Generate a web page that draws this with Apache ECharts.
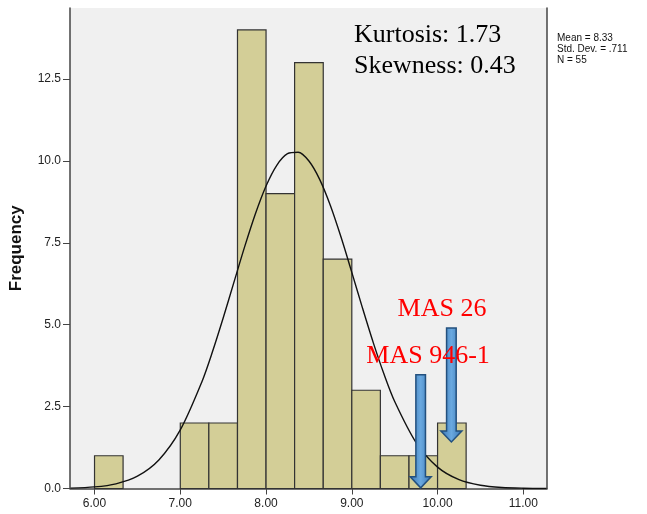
<!DOCTYPE html>
<html>
<head>
<meta charset="utf-8">
<script src="https://cdn.jsdelivr.net/npm/echarts@6/dist/echarts.min.js"></script>
<style>
html,body{margin:0;padding:0;background:#fff;}
#chart{width:647px;height:514px;}
</style>
</head>
<body>
<div id="chart"></div>
<script>
// Histogram bins (lower edge, upper edge) and frequencies
var binLow  = [6.000, 7.000, 7.333, 7.667, 8.000, 8.333, 8.667, 9.000, 9.333, 9.667, 10.000];
var binHigh = [6.333, 7.333, 7.667, 8.000, 8.333, 8.667, 9.000, 9.333, 9.667, 10.000, 10.333];
var counts  = [1, 2, 2, 14, 9, 13, 7, 3, 1, 1, 2];

// Normal curve values (Mean 8.33, SD .711, N 55)
var curveX = [5.72, 6.00, 6.25, 6.50, 6.75, 7.00, 7.25, 7.375, 7.50, 7.625, 7.75, 7.875, 8.00, 8.125, 8.25, 8.375, 8.50, 8.625, 8.75, 8.875, 9.00, 9.125, 9.25, 9.375, 9.50, 9.75, 10.00, 10.25, 10.50, 10.75, 11.00, 11.27];
var curveY = [0.012, 0.048, 0.143, 0.375, 0.871, 1.788, 3.246, 4.173, 5.204, 6.293, 7.376, 8.382, 9.237, 9.868, 10.222, 10.266, 9.997, 9.438, 8.640, 7.669, 6.599, 5.506, 4.454, 3.493, 2.656, 1.400, 0.652, 0.268, 0.098, 0.031, 0.009, 0.002];

// X and Y tick labels
var xTicks = [6, 7, 8, 9, 10, 11];
var yTicks = [0, 2.5, 5, 7.5, 10, 12.5];

// Arrow annotations
var arrowNames = ['MAS 946-1', 'MAS 26'];
var arrowX     = [9.803, 10.161];
var arrowTop   = [3.47, 4.90];
var arrowTip   = [0.02, 1.42];
var labelX     = [9.889, 10.052];
var labelY     = [4.05, 5.48];

// Statistic texts
var statsLines = ['Mean = 8.33', 'Std. Dev. = .711', 'N = 55'];
var shapeLines = ['Kurtosis: 1.73', 'Skewness: 0.43'];

var chart = echarts.init(document.getElementById('chart'), null, {renderer: 'canvas'});

var barData = counts.map(function (c, i) { return [binLow[i], binHigh[i], c]; });
var curveData = curveX.map(function (x, i) { return [x, curveY[i]]; });
var arrowData = arrowX.map(function (x, i) { return [x, arrowTop[i], arrowTip[i]]; });
var labelData = labelX.map(function (x, i) { return [x, labelY[i], arrowNames[i]]; });

var axisColor = '#444';
var sans = 'Liberation Sans, Arial, sans-serif';
var serif = 'Liberation Serif, Times New Roman, serif';

var option = {
  animation: false,
  backgroundColor: '#ffffff',
  grid: {
    left: 70, top: 8, width: 477, height: 480.5,
    outerBoundsMode: 'none', containLabel: false,
    show: true, backgroundColor: '#f0f0f0', borderWidth: 0
  },
  xAxis: {
    type: 'value', min: 5.714, max: 11.276,
    axisLine: {show: true, onZero: false, lineStyle: {color: axisColor, width: 1.5}},
    axisTick: {show: true, customValues: xTicks, length: 6, lineStyle: {color: axisColor, width: 1}},
    axisLabel: {customValues: xTicks, color: '#222', fontFamily: sans, fontSize: 12, margin: 9,
      formatter: function (v) { return v.toFixed(2); }},
    splitLine: {show: false}
  },
  yAxis: [{
    type: 'value', min: 0, max: 14.67,
    name: 'Frequency', nameLocation: 'middle', nameRotate: 90, nameGap: 45,
    nameTextStyle: {fontFamily: sans, fontWeight: 'bold', fontSize: 17, color: '#111'},
    axisLine: {show: true, lineStyle: {color: axisColor, width: 1.5}},
    axisTick: {show: true, customValues: yTicks, length: 7, lineStyle: {color: axisColor, width: 1}},
    axisLabel: {customValues: yTicks, color: '#222', fontFamily: sans, fontSize: 12, margin: 9,
      formatter: function (v) { return v.toFixed(1); }},
    splitLine: {show: false}
  }, {
    type: 'value', min: 0, max: 14.67, position: 'right',
    axisLine: {show: true, lineStyle: {color: axisColor, width: 1.5}},
    axisTick: {show: false}, axisLabel: {show: false}, splitLine: {show: false}
  }],
  series: [{
    type: 'custom',
    z: 2,
    data: barData,
    encode: {x: [0, 1], y: 2},
    renderItem: function (params, api) {
      var p0 = api.coord([api.value(0), api.value(2)]);
      var p1 = api.coord([api.value(1), 0]);
      return {
        type: 'rect',
        shape: {x: p0[0], y: p0[1], width: p1[0] - p0[0], height: p1[1] - p0[1]},
        style: {fill: '#d3ce97', stroke: '#333', lineWidth: 1.2}
      };
    }
  }, {
    type: 'line',
    z: 3,
    data: curveData,
    smooth: 0.3,
    showSymbol: false,
    symbol: 'none',
    lineStyle: {color: '#111', width: 1.4}
  }, {
    type: 'custom',
    z: 4,
    data: arrowData,
    encode: {x: 0, y: [1, 2]},
    renderItem: function (params, api) {
      var top = api.coord([api.value(0), api.value(1)]);
      var tip = api.coord([api.value(0), api.value(2)]);
      var x = top[0], sw = 4.8, hw = 10.5, hl = 11;
      var pts = [
        [x - sw, top[1]], [x + sw, top[1]], [x + sw, tip[1] - hl], [x + hw, tip[1] - hl],
        [x, tip[1]], [x - hw, tip[1] - hl], [x - sw, tip[1] - hl]
      ];
      return {
        type: 'polygon',
        shape: {points: pts},
        style: {
          fill: new echarts.graphic.LinearGradient(0, 0, 1, 0, [
            {offset: 0, color: '#3572b0'}, {offset: 0.5, color: '#6aa9e0'}, {offset: 1, color: '#3572b0'}
          ]),
          stroke: '#23507e', lineWidth: 1.5
        }
      };
    }
  }, {
    type: 'custom',
    z: 5,
    data: labelData,
    encode: {x: 0, y: 1},
    renderItem: function (params, api) {
      var lab = api.coord([api.value(0), api.value(1)]);
      return {
        type: 'text',
        style: {
          text: api.value(2), x: lab[0], y: lab[1],
          align: 'center', verticalAlign: 'middle',
          font: '26px ' + serif, fill: '#ff0000'
        }
      };
    }
  }],
  graphic: [{
    type: 'text', left: 354, top: 20,
    style: {text: shapeLines.join('\n'), font: '26px ' + serif, fill: '#000', lineHeight: 31}
  }, {
    type: 'text', left: 557, top: 33,
    style: {text: statsLines.join('\n'), font: '10px ' + sans, fill: '#111', lineHeight: 10.7}
  }]
};

chart.setOption(option);
</script>
</body>
</html>
